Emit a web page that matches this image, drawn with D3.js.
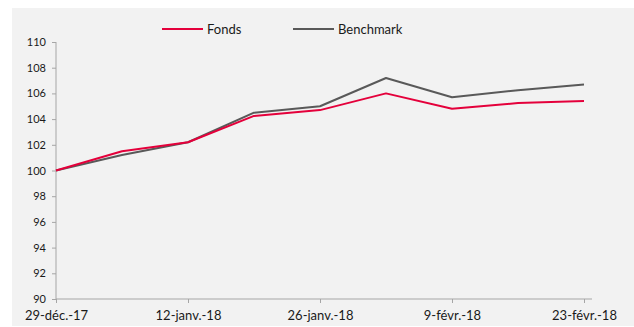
<!DOCTYPE html>
<html>
<head>
<meta charset="utf-8">
<script src="https://cdn.jsdelivr.net/npm/d3@7"></script>
<style>
  html, body { margin: 0; padding: 0; background: #ffffff; }
  svg { display: block; }
  text { font-family: Lato, "Open Sans", sans-serif; fill: #1a1a1a; }
</style>
</head>
<body>
<svg id="chart" width="634" height="327"></svg>
<script>
// Weekly observation dates (Friday closes)
const dates = ["2017-12-29", "2018-01-05", "2018-01-12", "2018-01-19", "2018-01-26",
               "2018-02-02", "2018-02-09", "2018-02-16", "2018-02-23"];
// Rebased performance (base 100)
const fonds     = [100, 101.5, 102.2, 104.25, 104.7, 106.0, 104.8, 105.25, 105.4];
const benchmark = [100, 101.2, 102.2, 104.5, 105.0, 107.2, 105.7, 106.25, 106.7];
// Axis labels
const xTickDates  = ["2017-12-29", "2018-01-12", "2018-01-26", "2018-02-09", "2018-02-23"];
const xTickLabels = ["29-déc.-17", "12-janv.-18", "26-janv.-18", "9-févr.-18", "23-févr.-18"];
const yTicks = [90, 92, 94, 96, 98, 100, 102, 104, 106, 108, 110];
const seriesNames = ["Fonds", "Benchmark"];
const seriesColors = ["#e4003b", "#595959"];

const parse = d3.timeParse("%Y-%m-%d");
const svg = d3.select("#chart");

// Panel background
svg.append("rect").attr("x", 12).attr("y", 8).attr("width", 622).attr("height", 318)
  .attr("fill", "#f2f2f2");

const x = d3.scaleTime()
  .domain([parse(dates[0]), parse(dates[dates.length - 1])])
  .range([56, 584]);
const y = d3.scaleLinear().domain([90, 110]).range([299, 42]);

const axisColor = "#a6a6a6";

// Y axis
const yAxis = svg.append("g").attr("transform", "translate(56,0)")
  .call(d3.axisLeft(y).tickValues(yTicks).tickSize(4).tickPadding(6).tickFormat(d3.format("d")));
yAxis.select(".domain").attr("stroke", axisColor).attr("d", `M0,${y(110)}V${y(90)}`);
yAxis.selectAll(".tick line").attr("stroke", axisColor);
yAxis.selectAll(".tick text").style("font-size", "11px").style("font-family", "Lato, sans-serif").attr("fill", "#1a1a1a");

// X axis
const xAxis = svg.append("g").attr("transform", `translate(0,${y(90)})`)
  .call(d3.axisBottom(x)
    .tickValues(xTickDates.map(parse))
    .tickSize(4).tickPadding(8)
    .tickFormat((d, i) => xTickLabels[i]));
xAxis.select(".domain").attr("stroke", axisColor).attr("d", "M56,0H592");
xAxis.selectAll(".tick line").attr("stroke", axisColor);
xAxis.selectAll(".tick text").style("font-size", "13px").style("font-family", "Lato, sans-serif").attr("fill", "#1a1a1a");

// Lines
const line = d3.line().x((d, i) => x(parse(dates[i]))).y(d => y(d));
[benchmark, fonds].forEach((vals, k) => {
  const color = k === 0 ? seriesColors[1] : seriesColors[0];
  svg.append("path").datum(vals)
    .attr("fill", "none").attr("stroke", color).attr("stroke-width", 2)
    .attr("stroke-linejoin", "round")
    .attr("d", line);
});

// Legend
const legendX = [162, 293];
seriesNames.forEach((name, i) => {
  const g = svg.append("g").attr("transform", `translate(${legendX[i]},29)`);
  g.append("line").attr("x1", 0).attr("x2", 41).attr("y1", 0).attr("y2", 0)
    .attr("stroke", seriesColors[i]).attr("stroke-width", 2);
  g.append("text").attr("x", 45).attr("y", 0).attr("dy", "0.35em")
    .style("font-size", "13px").text(name);
});
</script>
</body>
</html>
